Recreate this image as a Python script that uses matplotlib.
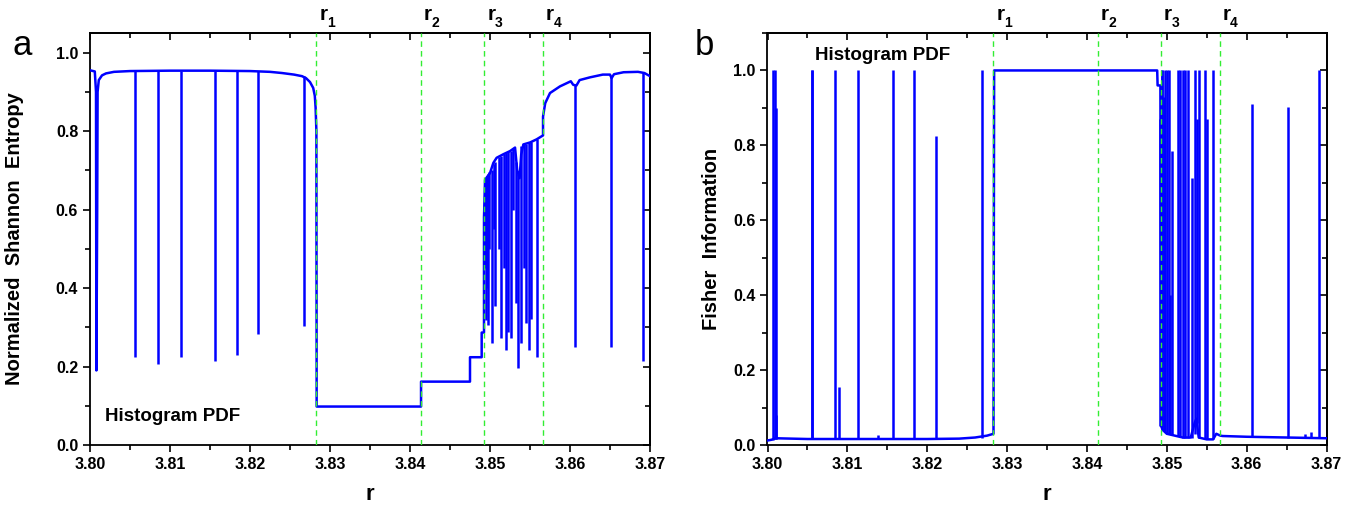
import matplotlib
matplotlib.use("Agg")
import matplotlib.pyplot as plt
from matplotlib.ticker import MultipleLocator, FormatStrFormatter

plt.rcParams['font.family'] = ['Liberation Sans', 'DejaVu Sans']

########### DATA ###########
R_MARKS = [3.8283, 3.84138, 3.8493, 3.85663]
R_NAMES = ["1", "2", "3", "4"]

# panel a : normalized Shannon entropy, main curve (r, H)
a_r = [3.8000, 3.8006, 3.80075, 3.8008, 3.8009, 3.80095, 3.8011, 3.8015, 3.8020, 3.8030,
       3.8050, 3.8100, 3.8150, 3.8200, 3.8225, 3.8240, 3.8255, 3.8265, 3.8270, 3.8275,
       3.8279, 3.8281, 3.8282, 3.8283, 3.82833, 3.84138, 3.84138, 3.8475, 3.8475, 3.84896,
       3.84896, 3.84925, 3.84925, 3.84938, 3.8500, 3.85042, 3.85083, 3.85167, 3.8525, 3.85313,
       3.8534, 3.8537, 3.8539, 3.85417, 3.8550, 3.85583, 3.85663, 3.85663, 3.8569, 3.8575,
       3.85875, 3.8601, 3.8604, 3.8608, 3.8612, 3.8625, 3.8641, 3.8650, 3.8652, 3.8655,
       3.8667, 3.8685, 3.8693, 3.8700]
a_h = [0.955, 0.952, 0.900, 0.190, 0.600, 0.900, 0.930, 0.942, 0.947, 0.951,
       0.953, 0.954, 0.954, 0.953, 0.951, 0.948, 0.944, 0.940, 0.935, 0.925,
       0.910, 0.890, 0.860, 0.800, 0.098, 0.098, 0.1615, 0.1615, 0.2237, 0.2237,
       0.2866, 0.2866, 0.580, 0.676, 0.693, 0.719, 0.732, 0.741, 0.749, 0.758,
       0.700, 0.680, 0.740, 0.766, 0.771, 0.779, 0.789, 0.837, 0.871, 0.897,
       0.914, 0.927, 0.918, 0.916, 0.930, 0.937, 0.944, 0.944, 0.935, 0.945,
       0.950, 0.951, 0.948, 0.940]

# panel a : downward spikes (position, top, bottom)
a_spike_r = [3.80563, 3.80846, 3.81133, 3.81563, 3.81833, 3.82104, 3.82675,
             3.8494, 3.8495, 3.84965, 3.84979, 3.8499, 3.85021, 3.85045, 3.85063, 3.8511,
             3.85133, 3.8517, 3.85196, 3.85229, 3.85258, 3.8529, 3.85325, 3.85354, 3.85383,
             3.8542, 3.85446, 3.85488, 3.85513, 3.85583,
             3.86063, 3.86508, 3.86908]
a_spike_top = [0.953, 0.953, 0.954, 0.954, 0.953, 0.952, 0.940,
               0.660, 0.680, 0.685, 0.690, 0.695, 0.700, 0.715, 0.720, 0.735,
               0.737, 0.742, 0.745, 0.748, 0.750, 0.755, 0.720, 0.690, 0.762,
               0.766, 0.768, 0.771, 0.772, 0.780,
               0.917, 0.940, 0.948]
a_spike_bottom = [0.223, 0.207, 0.223, 0.215, 0.230, 0.282, 0.304,
                  0.450, 0.319, 0.400, 0.306, 0.500, 0.259, 0.550, 0.353, 0.500,
                  0.272, 0.450, 0.242, 0.289, 0.272, 0.600, 0.362, 0.196, 0.259,
                  0.450, 0.310, 0.242, 0.320, 0.224,
                  0.251, 0.251, 0.214]

# panel b : Fisher information, main curve (r, F)
b_r = [3.8000, 3.8005, 3.8010, 3.8050, 3.8100, 3.8150, 3.8200, 3.8240, 3.8260, 3.8275,
       3.8283, 3.82838, 3.8488, 3.84885, 3.8492, 3.8493, 3.8495, 3.8500, 3.8510, 3.8520,
       3.8530, 3.8535, 3.8537, 3.8540, 3.8550, 3.8558, 3.8562, 3.8567, 3.8570, 3.8600,
       3.8650, 3.8700]
b_f = [0.012, 0.014, 0.018, 0.016, 0.016, 0.016, 0.016, 0.017, 0.020, 0.025,
       0.030, 1.000, 1.000, 0.960, 0.960, 0.050, 0.040, 0.030, 0.025, 0.020,
       0.020, 0.060, 0.070, 0.020, 0.015, 0.015, 0.030, 0.025, 0.024, 0.022,
       0.020, 0.018]

# panel b : upward spikes (position, foot, top)
b_spike_r = [3.80067, 3.80096, 3.80104, 3.80108, 3.80552, 3.80562, 3.8085, 3.8090, 3.81138,
             3.8138, 3.81567, 3.81829, 3.82108, 3.82683,
             3.8492, 3.84935, 3.84942, 3.84963, 3.84983, 3.85004, 3.85025, 3.85046,
             3.85067, 3.85142, 3.85171, 3.8520, 3.85233, 3.85263, 3.85317, 3.8535,
             3.85379, 3.8540, 3.85483, 3.85504, 3.85575,
             3.86067, 3.86513, 3.8673, 3.8681, 3.86909]
b_spike_foot = [0.014, 0.015, 0.016, 0.016, 0.016, 0.016, 0.016, 0.016, 0.016,
                0.016, 0.016, 0.016, 0.016, 0.018,
                0.050, 0.045, 0.040, 0.040, 0.035, 0.030, 0.030, 0.030,
                0.028, 0.025, 0.024, 0.020, 0.020, 0.020, 0.020, 0.030,
                0.060, 0.020, 0.015, 0.015, 0.015,
                0.022, 0.020, 0.020, 0.019, 0.018]
b_spike_top = [1.000, 1.000, 0.900, 0.080, 1.000, 1.000, 1.000, 0.156, 1.000,
               0.028, 1.000, 1.000, 0.824, 1.000,
               0.870, 1.000, 1.000, 0.930, 1.000, 1.000, 1.000, 0.400,
               0.784, 1.000, 1.000, 1.000, 1.000, 1.000, 0.714, 1.000,
               0.870, 1.000, 1.000, 0.870, 1.000,
               0.911, 0.902, 0.030, 0.035, 1.000]
##################################################

BLUE = '#0000ff'
GREEN = '#33ee33'
LW = 1.8


def style_axes(ax, ymax, ystep):
    ax.set_xlim(3.80, 3.87)
    ax.set_ylim(0, ymax)
    ax.xaxis.set_major_locator(MultipleLocator(0.01))
    ax.xaxis.set_minor_locator(MultipleLocator(0.005))
    ax.yaxis.set_major_locator(MultipleLocator(ystep))
    ax.yaxis.set_minor_locator(MultipleLocator(ystep / 2))
    ax.xaxis.set_major_formatter(FormatStrFormatter('%.2f'))
    ax.yaxis.set_major_formatter(FormatStrFormatter('%.1f'))
    ax.tick_params(which='both', direction='out', width=1.2, labelsize=11.5)
    ax.tick_params(which='major', length=5)
    ax.tick_params(which='minor', length=3.5)
    for lab in ax.get_xticklabels() + ax.get_yticklabels():
        lab.set_fontweight('bold')
    for s in ax.spines.values():
        s.set_linewidth(1.3)

    # top and right ticks point inwards
    top = ax.secondary_xaxis('top')
    top.xaxis.set_major_locator(MultipleLocator(0.01))
    top.xaxis.set_minor_locator(MultipleLocator(0.005))
    top.tick_params(which='both', direction='in', width=1.2, labeltop=False)
    top.tick_params(which='major', length=5)
    top.tick_params(which='minor', length=3.5)
    right = ax.secondary_yaxis('right')
    right.yaxis.set_major_locator(MultipleLocator(ystep))
    right.yaxis.set_minor_locator(MultipleLocator(ystep / 2))
    right.tick_params(which='both', direction='in', width=1.2, labelright=False)
    right.tick_params(which='major', length=5)
    right.tick_params(which='minor', length=3.5)
    for sec in (top, right):
        for s in sec.spines.values():
            s.set_linewidth(1.3)

    ax.set_xlabel('r', fontsize=16, fontweight='bold')
    ax.xaxis.set_label_coords(0.5, -0.095)

    for rv, nm in zip(R_MARKS, R_NAMES):
        ax.axvline(rv, color=GREEN, lw=1.0, ls=(0, (4, 3)), zorder=5)
        ax.annotate('r', xy=(rv, 1.0), xycoords=('data', 'axes fraction'),
                    xytext=(2.0, 9.0), textcoords='offset points',
                    ha='left', va='baseline', fontsize=15, fontweight='bold',
                    annotation_clip=False)
        ax.annotate(nm, xy=(rv, 1.0), xycoords=('data', 'axes fraction'),
                    xytext=(7.5, 4.3), textcoords='offset points',
                    ha='left', va='baseline', fontsize=10, fontweight='bold',
                    annotation_clip=False)


fig = plt.figure(figsize=(13.54, 5.08), dpi=100)
ax_a = fig.add_axes([90 / 1354, 63 / 508, 560 / 1354, 412 / 508])
ax_b = fig.add_axes([767.5 / 1354, 63 / 508, 559 / 1354, 412 / 508])

# panel a
ax_a.plot(a_r, a_h, color=BLUE, lw=LW, zorder=3)
ax_a.vlines(a_spike_r, a_spike_bottom, a_spike_top, color=BLUE, lw=LW, zorder=3)
style_axes(ax_a, 1.05, 0.2)
ax_a.set_ylabel('Normalized  Shannon  Entropy', fontsize=14.5, fontweight='bold')
ax_a.yaxis.set_label_coords(-0.118, 0.5)
ax_a.text(0.026, 0.058, 'Histogram PDF', transform=ax_a.transAxes,
          fontsize=13.5, fontweight='bold', ha='left', va='baseline')

# panel b
ax_b.plot(b_r, b_f, color=BLUE, lw=LW, zorder=3)
ax_b.vlines(b_spike_r, b_spike_foot, b_spike_top, color=BLUE, lw=LW, zorder=3)
style_axes(ax_b, 1.1, 0.2)
ax_b.set_ylabel('Fisher  Information', fontsize=14.5, fontweight='bold')
ax_b.yaxis.set_label_coords(-0.083, 0.5)
ax_b.text(0.085, 0.934, 'Histogram PDF', transform=ax_b.transAxes,
          fontsize=13.5, fontweight='bold', ha='left', va='baseline')

fig.text(13 / 1354, 1 - 55 / 508, 'a', fontsize=25, ha='left', va='baseline')
fig.text(695 / 1354, 1 - 55 / 508, 'b', fontsize=25, ha='left', va='baseline')

fig.savefig('out.png', dpi=100)
